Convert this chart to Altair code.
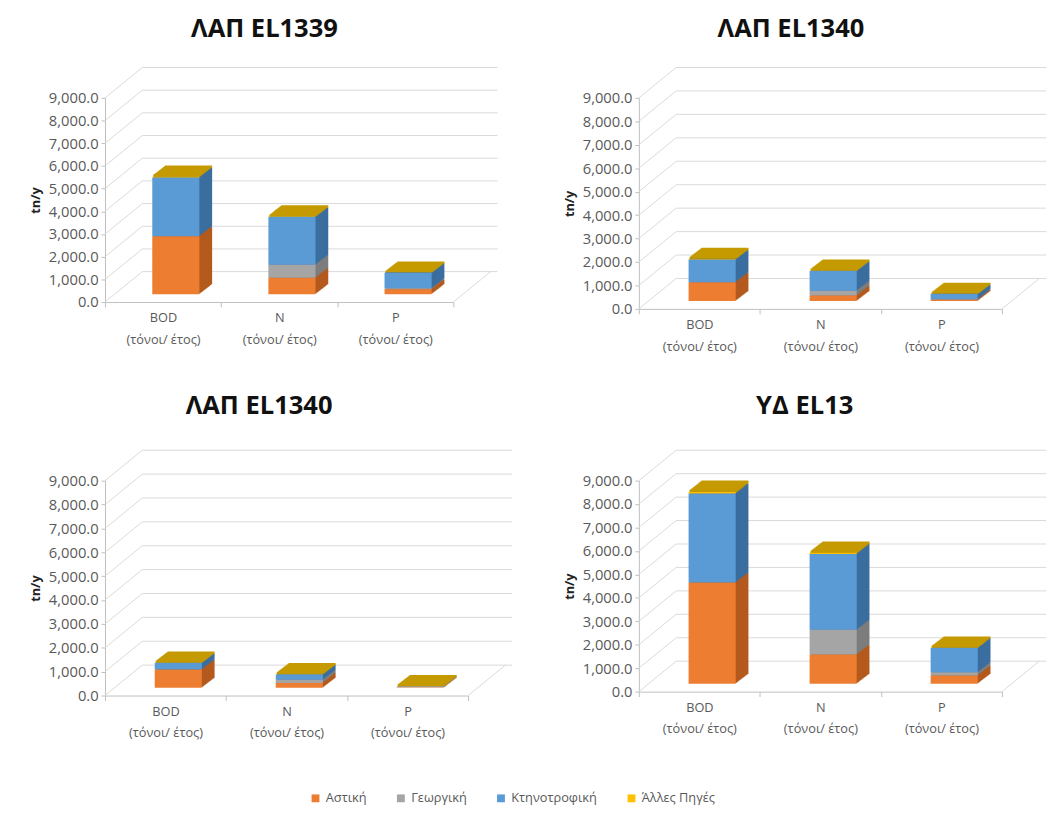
import altair as alt
import pandas as pd

# ---- data -------------------------------------------------------------
panel_titles = ["ΛΑΠ EL1339", "ΛΑΠ EL1340", "ΛΑΠ EL1340", "ΥΔ EL13"]
parameters = ["BOD|(τόνοι/ έτος)", "N|(τόνοι/ έτος)", "P|(τόνοι/ έτος)"]
sources = ["Αστική", "Γεωργική", "Κτηνοτροφική", "Άλλες Πηγές"]

# loads (t/y) per panel, in the order of `parameters`
astiki = [[2550, 720, 220], [800, 240, 60], [760, 200, 20], [4320, 1250, 350]]
georgiki = [[0, 580, 40], [0, 200, 20], [0, 130, 5], [0, 1050, 140]]
ktinotrofiki = [[2600, 2100, 680], [970, 840, 220], [270, 220, 30], [3800, 3240, 1040]]
alles_piges = [[30, 20, 5], [20, 15, 3], [15, 10, 2], [65, 45, 10]]

grid_values = [0, 1000, 2000, 3000, 4000, 5000, 6000, 7000, 8000, 9000]

# ---- styling ----------------------------------------------------------
front_colors = ["#ED7D31", "#A5A5A5", "#5B9BD5", "#FFC000"]
side_colors = ["#B45A1E", "#7D7D7D", "#3B6E9F", "#BF9000"]
top_color = "#C49A00"
line_color = "#D9D9D9"
text_color = "#595959"
FONT = "Open Sans"

WALL_DX, WALL_DY = 38, 31      # depth of the back wall
FACE_DX, FACE_DY = 13, 8       # front face of the boxes, measured from the floor edge
BOX_DX, BOX_DY = 13, 10        # depth of each box
BAR_W = 48

# plot width, plot height, title offset, title shift of each panel
sizes = [(355, 208, 26, -15), (370, 215, 26, -30), (370, 219, 31, -28), (370, 215, 31, -16)]

series = [astiki, georgiki, ktinotrofiki, alles_piges]


def make_panel(i):
    w, h, t_off, t_dx = sizes[i]
    rows = []
    for j, p in enumerate(parameters):
        for k, s in enumerate(sources):
            rows.append({"param": p, "source": s, "order": k,
                         "value": series[k][i][j], "side": side_colors[k]})
    df = pd.DataFrame(rows)
    totals = df.groupby("param", sort=False)["value"].sum().reset_index(name="total")
    grid = pd.DataFrame({"v": grid_values})

    y_scale = alt.Scale(domain=[0, 9000], nice=False)
    y_axis = alt.Axis(values=grid_values, format=",.1f", grid=False, domain=True,
                      domainColor="#BFBFBF", tickColor="#BFBFBF", tickSize=4,
                      labelColor=text_color, labelFont=FONT, labelFontSize=15,
                      labelPadding=3, title="tn/y", titleFont=FONT,
                      titleFontSize=13, titleFontWeight="bold", titleColor="#222222",
                      titlePadding=6)
    x_scale = alt.Scale(domain=parameters, paddingInner=0, paddingOuter=0)
    x_axis = alt.Axis(labelExpr="split(datum.label, '|')", labelColor=text_color,
                      labelFont=FONT, labelFontSize=13, labelLineHeight=22,
                      labelAngle=0, labelPadding=5, tickBand="extent",
                      tickColor="#BFBFBF", tickSize=5, domainColor="#BFBFBF",
                      title=None)
    X = alt.X("param:N", scale=x_scale, axis=x_axis, sort=parameters)

    grid_base = alt.Chart(grid)
    # diagonals joining the front axis to the back wall
    diagonals = grid_base.mark_rule(color=line_color, y2Offset=-WALL_DY).encode(
        x=alt.value(0), x2=alt.value(WALL_DX),
        y=alt.Y("v:Q", scale=y_scale, axis=y_axis), y2="v:Q")
    # gridlines on the back wall
    wall = grid_base.mark_rule(color=line_color, yOffset=-WALL_DY).encode(
        x=alt.value(WALL_DX), x2=alt.value(w + WALL_DX + 7),
        y=alt.Y("v:Q", scale=y_scale, axis=y_axis))
    # right edge of the floor
    floor_edge = alt.Chart(pd.DataFrame({"v": [0]})).mark_rule(
        color=line_color, y2Offset=-WALL_DY).encode(
        x=alt.value(w), x2=alt.value(w + WALL_DX),
        y=alt.Y("v:Q", scale=y_scale, axis=y_axis), y2="v:Q")

    layers = [diagonals, wall, floor_edge]

    steps = list(range(BOX_DX, 0, -1))
    # side faces: stacked copies pushed back in depth
    for k in steps:
        ox = FACE_DX + k
        oy = -FACE_DY - k * BOX_DY / BOX_DX
        layers.append(alt.Chart(df).mark_bar(
            size=BAR_W, xOffset=ox, x2Offset=ox, yOffset=oy, y2Offset=oy).encode(
            x=X,
            y=alt.Y("value:Q", stack="zero", scale=y_scale, axis=y_axis),
            fill=alt.Fill("side:N", scale=None),
            order=alt.Order("order:Q")))
    # top faces
    for k in steps:
        ox = FACE_DX + k
        oy = -FACE_DY - k * BOX_DY / BOX_DX
        layers.append(alt.Chart(totals).mark_bar(
            size=BAR_W, color=top_color, xOffset=ox, x2Offset=ox,
            yOffset=oy - 1.5, y2Offset=oy + 0.5).encode(
            x=X,
            y=alt.Y("total:Q", scale=y_scale, axis=y_axis),
            y2="total:Q"))
    # front faces
    layers.append(alt.Chart(df).mark_bar(
        size=BAR_W, xOffset=FACE_DX, x2Offset=FACE_DX,
        yOffset=-FACE_DY, y2Offset=-FACE_DY).encode(
        x=X,
        y=alt.Y("value:Q", stack="zero", scale=y_scale, axis=y_axis),
        color=alt.Color("source:N",
                        scale=alt.Scale(domain=sources, range=front_colors),
                        legend=alt.Legend(title=None, orient="none", direction="horizontal",
                                          legendX=208, legendY=707,
                                          symbolType="square", symbolSize=64,
                                          symbolStrokeWidth=0,
                                          labelFont=FONT, labelFontSize=13,
                                          labelColor=text_color, columnPadding=28)),
        order=alt.Order("order:Q")))

    return alt.layer(*layers).properties(
        width=w, height=h,
        title=alt.TitleParams(panel_titles[i], font=FONT, fontSize=26,
                              fontWeight="bold", color="#111111", offset=t_off,
                              dx=t_dx))


top = alt.hconcat(make_panel(0), make_panel(1), spacing=66)
bottom = alt.hconcat(make_panel(2), make_panel(3), spacing=51)

chart = alt.vconcat(top, bottom, spacing=41).resolve_scale(color="shared").configure_view(
    stroke=None).properties(padding={"left": 30, "top": 8, "right": 5, "bottom": 5})

chart.save("out.html", embed_options={"renderer": "svg", "actions": False})
